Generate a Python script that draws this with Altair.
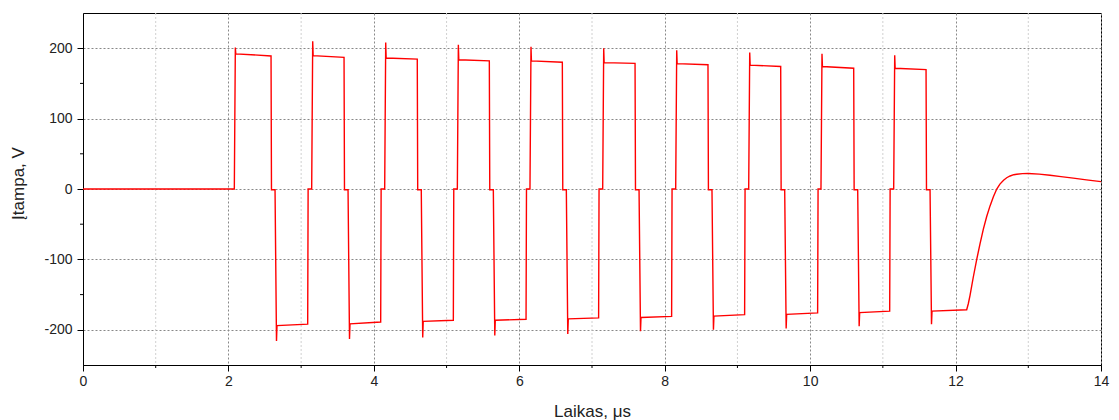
import altair as alt
import pandas as pd

# Event times of the switching waveform (µs)
pos_rise = [2.081, 3.145, 4.149, 5.148, 6.147, 7.147, 8.151, 9.155, 10.149, 11.149]
pos_fall = [2.586, 3.590, 4.597, 5.588, 6.592, 7.592, 8.595, 9.595, 10.599, 11.594]
neg_fall = [2.641, 3.645, 4.652, 5.643, 6.647, 7.647, 8.650, 9.650, 10.654, 11.649]
neg_rise = [3.090, 4.094, 5.093, 6.093, 7.091, 8.095, 9.099, 10.103, 11.094]

# Voltage levels (V) of each positive / negative pulse
pos_spike = [201, 210, 208, 205, 202, 200, 197, 194, 192, 190]
pos_start = [192, 189.5, 186, 183.5, 182, 179.5, 178, 176, 174, 171.5]
pos_end = [189, 187, 184.5, 182, 180, 178.5, 176.5, 174, 171.5, 169.5]
neg_spike = [-216, -213, -211, -208, -206, -202, -200, -198, -195, -192]
neg_start = [-194, -191.5, -188, -186.5, -184.5, -182.5, -180.5, -178, -175.5, -173.5]
neg_end = [-192, -189, -186.5, -185, -183, -181, -178.5, -176, -173.5, -171.5]

# Final recovery curve after the last pulse
tail_t = [12.153, 12.175, 12.199, 12.244, 12.291, 12.336, 12.382, 12.428, 12.474, 12.52,
          12.566, 12.61, 12.66, 12.703, 12.75, 12.80, 12.841, 12.92, 13.0, 13.15,
          13.299, 13.45, 13.619, 13.8, 14.0]
tail_v = [-171.5, -163, -151, -125, -100, -78, -57, -39, -24, -11,
          0, 7, 12.5, 16, 18.5, 20.3, 21, 21.8, 22, 21.2,
          19.5, 17.6, 15.5, 13, 10.5]

x_major = [0, 2, 4, 6, 8, 10, 12, 14]
x_minor = [1, 3, 5, 7, 9, 11, 13]
y_major = [-200, -100, 0, 100, 200]
y_minor = [-150, -50, 50, 150]

# build the polyline
pts = [(0.0, 0.0)]
for i in range(len(pos_rise)):
    r = pos_rise[i]
    pts += [(r, 0.0), (r + 0.014, pos_spike[i]), (r + 0.02, pos_start[i]),
            (pos_fall[i], pos_end[i]), (pos_fall[i] + 0.006, -1.0),
            (neg_fall[i], -1.0), (neg_fall[i] + 0.02, neg_spike[i]),
            (neg_fall[i] + 0.027, neg_start[i])]
    if i < len(neg_rise):
        pts += [(neg_rise[i], neg_end[i]), (neg_rise[i] + 0.006, 0.0)]
    else:
        pts += [(tail_t[0], neg_end[i])] + list(zip(tail_t[1:], tail_v[1:]))

df = pd.DataFrame(pts, columns=["t", "v"])
df["i"] = range(len(df))

xs = alt.Scale(domain=[0, 14], nice=False, zero=False)
ys = alt.Scale(domain=[-250, 250], nice=False, zero=False)

FONT = "Liberation Sans"

x_axis = alt.Axis(
    values=x_major, title="Laikas, μs", grid=True, gridColor="#888888",
    gridDash=[2, 2], gridWidth=1, tickSize=6, tickColor="black", domainColor="black",
    labelFlush=False, labelPadding=3, labelFontSize=14, labelFont=FONT, labelColor="#222222",
    titleFont=FONT, titleFontSize=17, titleFontWeight="normal", titleColor="#222222",
    titleY=51, titleBaseline="alphabetic")
y_axis = alt.Axis(
    values=y_major, title="Įtampa, V", grid=True, gridColor="#888888",
    gridDash=[2, 2], gridWidth=1, tickSize=6, tickColor="black", domainColor="black",
    labelExpr="'' + datum.value",
    labelPadding=5, labelFontSize=14, labelFont=FONT, labelColor="#222222",
    titleFont=FONT, titleFontSize=17, titleFontWeight="normal", titleColor="#222222",
    titleX=-65, titleY=170, titleAngle=270, titleAlign="center", titleBaseline="middle")

xminor_df = pd.DataFrame({"t": x_minor})
yminor_df = pd.DataFrame({"v": y_minor})

xgrid_minor = alt.Chart(xminor_df).mark_rule(color="#d0d0d0", strokeWidth=1, strokeDash=[2, 2]).encode(
    x=alt.X("t:Q", scale=xs, axis=x_axis), y=alt.value(0), y2=alt.value(352))
xtick_minor = alt.Chart(xminor_df).mark_rule(color="black", strokeWidth=1).encode(
    x=alt.X("t:Q", scale=xs, axis=x_axis), y=alt.value(352), y2=alt.value(355))
ytick_minor = alt.Chart(yminor_df).mark_rule(color="black", strokeWidth=1).encode(
    y=alt.Y("v:Q", scale=ys, axis=y_axis), x=alt.value(0), x2=alt.value(-3))

line = alt.Chart(df).mark_line(color="#ff0000", strokeWidth=1.4, clip=True).encode(
    x=alt.X("t:Q", scale=xs, axis=x_axis),
    y=alt.Y("v:Q", scale=ys, axis=y_axis),
    order="i:Q",
)

chart = alt.layer(xgrid_minor, xtick_minor, ytick_minor, line).properties(
    width=1018, height=352,
    autosize=alt.AutoSizeParams(type="none"),
    padding={"left": 83, "top": 13, "right": 18, "bottom": 55},
).configure(background="white", view=alt.ViewConfig(stroke="black", strokeWidth=1))

chart.save("out.html", embed_options={"renderer": "svg", "actions": False})
